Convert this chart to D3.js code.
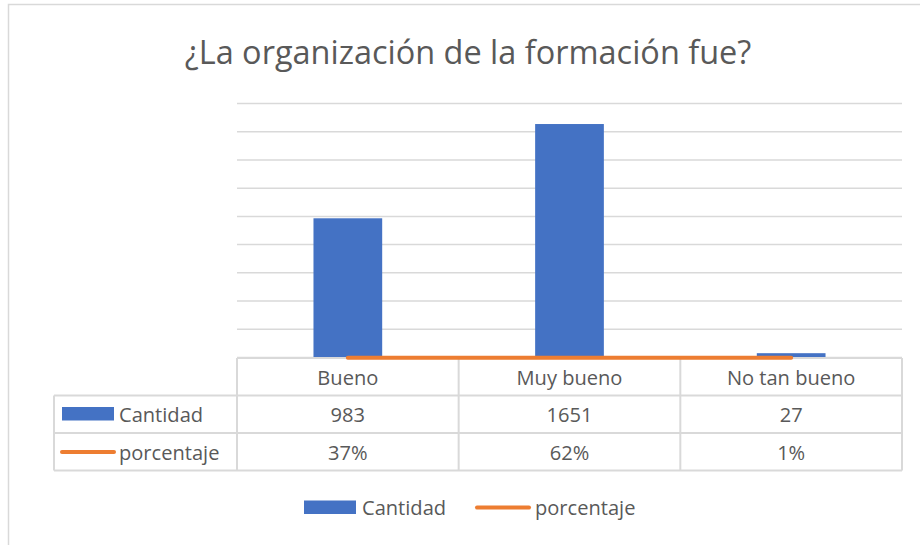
<!DOCTYPE html>
<html><head><meta charset="utf-8">
<script src="https://cdn.jsdelivr.net/npm/d3@7"></script>
<style>body{margin:0;background:#fff;}svg{display:block;}</style>
</head><body>
<svg id="c" width="920" height="545"></svg>
<script>
const title = "¿La organización de la formación fue?";
const categories = ["Bueno", "Muy bueno", "No tan bueno"];
const cantidad = [983, 1651, 27];
const porcentaje = [0.37, 0.62, 0.01];
const porcentajeLabels = ["37%", "62%", "1%"];
const seriesNames = ["Cantidad", "porcentaje"];
const yTicks = [0, 200, 400, 600, 800, 1000, 1200, 1400, 1600, 1800];

const FONT = "'Open Sans', 'Noto Sans', sans-serif";
const TXT = "#595959", GRID = "#d9d9d9", BLUE = "#4472C4", ORANGE = "#ED7D31";
const svg = d3.select("#c");

function fitSize(str, target) {
  const t = svg.append("text").attr("font-family", FONT).attr("font-size", 20).text(str);
  const w = t.node().getComputedTextLength();
  t.remove();
  return 20 * target / w;
}
const titleSize = fitSize(title, 567);
const bodySize = fitSize("Bueno", 61);

// outer border
svg.append("rect").attr("x", 8.5).attr("y", 4.5).attr("width", 940).attr("height", 560)
  .attr("fill", "none").attr("stroke", GRID).attr("stroke-width", 1.5);

svg.append("text").attr("x", 468).attr("y", 64).attr("text-anchor", "middle")
  .attr("font-family", FONT).attr("font-size", titleSize).attr("fill", TXT).text(title);

const x0 = 237, x1 = 902;
const x = d3.scaleBand().domain(categories).range([x0, x1]).paddingInner(0.69).paddingOuter(0.345);
const y = d3.scaleLinear().domain([0, 1800]).range([357, 103]);

// gridlines
const gridAxis = d3.axisLeft(y).tickValues(yTicks).tickSize(-(x1 - x0)).tickFormat("");
const g = svg.append("g").attr("transform", `translate(${x0},0)`).call(gridAxis);
g.select(".domain").remove();
g.selectAll(".tick line").attr("stroke", GRID).attr("stroke-width", 1.5);

// bars
svg.append("g").selectAll("rect").data(categories).join("rect")
  .attr("x", d => x(d)).attr("width", x.bandwidth())
  .attr("y", (d, i) => y(cantidad[i])).attr("height", (d, i) => y(0) - y(cantidad[i]))
  .attr("fill", BLUE);

const cx = d => x(d) + x.bandwidth() / 2;

// data table
const rows = [358, 395.5, 433, 470.5];
const colEdges = [x0, x0 + x.step(), x0 + 2 * x.step(), x1];
const tb = svg.append("g").attr("fill", "none").attr("stroke", GRID).attr("stroke-width", 2);
tb.append("line").attr("x1", x0).attr("x2", x1).attr("y1", rows[0]).attr("y2", rows[0]);
[1, 2, 3].forEach(r => tb.append("line").attr("x1", 54).attr("x2", x1).attr("y1", rows[r]).attr("y2", rows[r]));
colEdges.forEach(cxv => tb.append("line").attr("x1", cxv).attr("x2", cxv).attr("y1", rows[0]).attr("y2", rows[3]));
tb.append("line").attr("x1", 54).attr("x2", 54).attr("y1", rows[1]).attr("y2", rows[3]);

// line series (drawn above the table border)
const line = d3.line().x((d, i) => cx(categories[i])).y(d => y(d) + 0.8);
svg.append("path").datum(porcentaje).attr("d", line).attr("fill", "none")
  .attr("stroke", ORANGE).attr("stroke-width", 4).attr("stroke-linecap", "round");

const txt = svg.append("g").attr("font-family", FONT).attr("font-size", bodySize).attr("fill", TXT);
categories.forEach((c, i) => {
  txt.append("text").attr("x", cx(c)).attr("y", 385).attr("text-anchor", "middle").text(c);
  txt.append("text").attr("x", cx(c)).attr("y", 422).attr("text-anchor", "middle").text(cantidad[i]);
  txt.append("text").attr("x", cx(c)).attr("y", 460).attr("text-anchor", "middle").text(porcentajeLabels[i]);
});
// table legend keys
svg.append("rect").attr("x", 62).attr("y", 407).attr("width", 52).attr("height", 13.5).attr("fill", BLUE);
svg.append("line").attr("x1", 62).attr("x2", 114).attr("y1", 452).attr("y2", 452)
  .attr("stroke", ORANGE).attr("stroke-width", 4).attr("stroke-linecap", "round");
txt.append("text").attr("x", 119).attr("y", 422).text(seriesNames[0]);
txt.append("text").attr("x", 119).attr("y", 460).text(seriesNames[1]);

// bottom legend
svg.append("rect").attr("x", 304).attr("y", 500.5).attr("width", 52).attr("height", 13.5).attr("fill", BLUE);
txt.append("text").attr("x", 362).attr("y", 515).text(seriesNames[0]);
svg.append("line").attr("x1", 477).attr("x2", 529).attr("y1", 507.5).attr("y2", 507.5)
  .attr("stroke", ORANGE).attr("stroke-width", 4).attr("stroke-linecap", "round");
txt.append("text").attr("x", 535).attr("y", 515).text(seriesNames[1]);
</script>
</body></html>
